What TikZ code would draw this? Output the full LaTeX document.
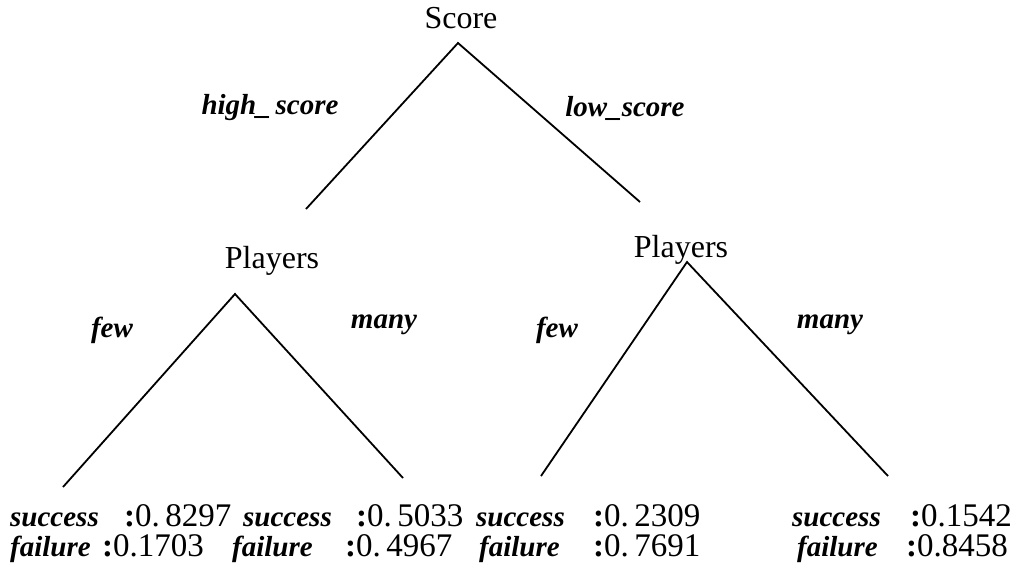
\documentclass[tikz,border=0pt]{standalone}
\usepackage{fontspec}
\setmainfont{Liberation Serif}
\begin{document}
\begin{tikzpicture}[x=1pt,y=-1pt,
  attr/.style={font=\fontsize{32}{34}\selectfont, inner sep=0pt},
  lab/.style={font=\fontsize{29}{31}\selectfont\bfseries\itshape, inner sep=0pt},
  leafname/.style={font=\fontsize{29}{31}\selectfont\bfseries\itshape, inner sep=0pt, anchor=base west},
  leafval/.style={font=\fontsize{33}{35}\selectfont, inner sep=0pt, anchor=base west},
  branch/.style={line width=1.8pt}]
\useasboundingbox (0,0) rectangle (1031,574);
% attribute nodes
\node[attr, anchor=base] (score) at (461,28) {Score};
\node[attr, anchor=base] (pl) at (272,268) {Players};
\node[attr, anchor=base] (pr) at (681,257) {Players};
% apexes and free ends
\coordinate (sa) at (458,43);
\coordinate (s1) at (306,209);
\coordinate (s2) at (640,202);
\coordinate (la) at (235,294);
\coordinate (l1) at (63,487);
\coordinate (l2) at (403,478);
\coordinate (ra) at (687,262);
\coordinate (r1) at (541,476);
\coordinate (r2) at (888,476);
\draw[branch] (s1) -- (sa) -- (s2);
\draw[branch] (l1) -- (la) -- (l2);
\draw[branch] (r1) -- (ra) -- (r2);
% branch labels
\node[lab] (hs) at (270,108) {high\_\,score};
\node[lab] (ls) at (625,108) {low\_score};
\node[lab] (f1) at (112,330) {few};
\node[lab] (m1) at (384,325) {many};
\node[lab] (f2) at (557,330) {few};
\node[lab] (m2) at (830,325) {many};
% leaves
\node[leafname] (a1) at (10,526) {success};
\node[leafval] (a1v) at (124,526) {{\bfseries :}0.\,8297};
\node[leafname] (b1) at (10,556) {failure};
\node[leafval] (b1v) at (102,556) {{\bfseries :}0.1703};
\node[leafname] (a2) at (243,526) {success};
\node[leafval] (a2v) at (356,526) {{\bfseries :}0.\,5033};
\node[leafname] (b2) at (232,556) {failure};
\node[leafval] (b2v) at (345,556) {{\bfseries :}0.\,4967};
\node[leafname] (a3) at (476,526) {success};
\node[leafval] (a3v) at (593,526) {{\bfseries :}0.\,2309};
\node[leafname] (b3) at (479,556) {failure};
\node[leafval] (b3v) at (593,556) {{\bfseries :}0.\,7691};
\node[leafname] (a4) at (792,526) {success};
\node[leafval] (a4v) at (910,526) {{\bfseries :}0.1542};
\node[leafname] (b4) at (797,556) {failure};
\node[leafval] (b4v) at (906,556) {{\bfseries :}0.8458};
\end{tikzpicture}
\end{document}
